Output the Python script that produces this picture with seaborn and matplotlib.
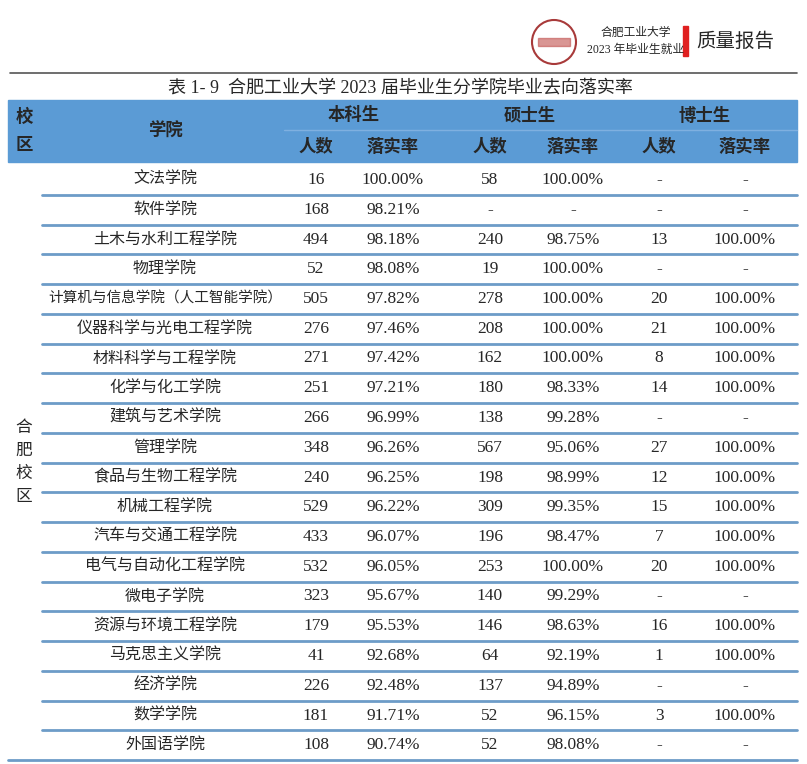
import matplotlib
matplotlib.use("Agg")
import matplotlib.pyplot as plt
import matplotlib.patches as mpatches
import seaborn as sns

sns.set_theme(style="white")
plt.rcParams['font.family'] = ['Liberation Serif', 'Noto Sans CJK SC', 'DejaVu Sans']

colleges = ["文法学院", "软件学院", "土木与水利工程学院", "物理学院",
            "计算机与信息学院（人工智能学院）", "仪器科学与光电工程学院", "材料科学与工程学院",
            "化学与化工学院", "建筑与艺术学院", "管理学院", "食品与生物工程学院",
            "机械工程学院", "汽车与交通工程学院", "电气与自动化工程学院", "微电子学院",
            "资源与环境工程学院", "马克思主义学院", "经济学院", "数学学院", "外国语学院"]
bach_n = ["16", "168", "494", "52", "505", "276", "271", "251", "266", "348", "240",
          "529", "433", "532", "323", "179", "41", "226", "181", "108"]
bach_r = ["100.00%", "98.21%", "98.18%", "98.08%", "97.82%", "97.46%", "97.42%", "97.21%",
          "96.99%", "96.26%", "96.25%", "96.22%", "96.07%", "96.05%", "95.67%", "95.53%",
          "92.68%", "92.48%", "91.71%", "90.74%"]
mast_n = ["58", "-", "240", "19", "278", "208", "162", "180", "138", "567", "198",
          "309", "196", "253", "140", "146", "64", "137", "52", "52"]
mast_r = ["100.00%", "-", "98.75%", "100.00%", "100.00%", "100.00%", "100.00%", "98.33%",
          "99.28%", "95.06%", "98.99%", "99.35%", "98.47%", "100.00%", "99.29%", "98.63%",
          "92.19%", "94.89%", "96.15%", "98.08%"]
doc_n = ["-", "-", "13", "-", "20", "21", "8", "14", "-", "27", "12",
         "15", "7", "20", "-", "16", "1", "-", "3", "-"]
doc_r = ["-", "-", "100.00%", "-", "100.00%", "100.00%", "100.00%", "100.00%", "-",
         "100.00%", "100.00%", "100.00%", "100.00%", "100.00%", "-", "100.00%", "100.00%",
         "-", "100.00%", "-"]
campus = "合\n肥\n校\n区"
title = "表 1- 9  合肥工业大学 2023 届毕业生分学院毕业去向落实率"

fig = plt.figure(figsize=(8.07, 7.64), dpi=100)
ax = fig.add_axes([0, 0, 1, 1])
ax.set_xlim(0, 807)
ax.set_ylim(764, 0)
ax.axis("off")

blue = "#5b9bd5"
line_c = "#6d9cc8"

# page header
ax.add_patch(mpatches.Circle((554, 42), 22, fill=False, ec="#a83a3a", lw=1.5))
ax.add_patch(mpatches.Rectangle((538, 38), 32, 8, color="#c0504d", alpha=0.6))
ax.text(636, 33, "合肥工业大学", fontsize=8.5, ha="center", va="center")
ax.text(636, 50, "2023 年毕业生就业", fontsize=8.5, ha="center", va="center")
ax.add_patch(mpatches.Rectangle((683, 26), 5, 30, color="#e02020"))
ax.text(735, 42, "质量报告", fontsize=14, ha="center", va="center")
ax.plot([10, 797], [73, 73], color="#555555", lw=1.2)
ax.text(400, 88, title, fontsize=13, ha="center", va="center")

# table header
ax.add_patch(mpatches.Rectangle((8, 100), 789, 62, color=blue))
ax.plot([284, 797], [130, 130], color="#7fb0e0", lw=1)
xs = [316, 393, 490, 573, 659, 745]
hkw = dict(fontsize=12.5, fontweight="bold", ha="center", va="center")
ax.text(24, 117, "校", **hkw)
ax.text(24, 146, "区", **hkw)
ax.text(165, 131, "学院", **hkw)
for gx, g in zip([354, 530, 705], ["本科生", "硕士生", "博士生"]):
    ax.text(gx, 116, g, **hkw)
for x, h in zip(xs, ["人数", "落实率"] * 3):
    ax.text(x, 147, h, **hkw)

# body
y0, dy = 180, 29.75
for i, name in enumerate(colleges):
    y = y0 + i * dy
    ax.text(165, y, name, fontsize=11.5 if len(name) < 12 else 10.5, ha="center", va="center")
    for x, col in zip(xs, [bach_n, bach_r, mast_n, mast_r, doc_n, doc_r]):
        ax.text(x, y, col[i], fontsize=12.5, ha="center", va="center")
    yl = y + dy / 2
    if i < len(colleges) - 1:
        ax.plot([42, 797], [yl, yl], color=line_c, lw=2)
    else:
        ax.plot([8, 797], [yl, yl], color=line_c, lw=2)
ax.text(24, y0 + 9.5 * dy, campus, fontsize=12, ha="center", va="center", linespacing=1.6)

fig.savefig("out.png", dpi=100)
